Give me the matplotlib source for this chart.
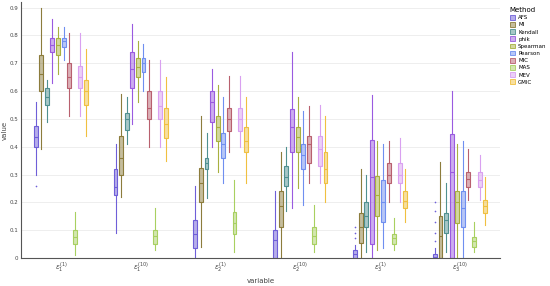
import matplotlib.pyplot as plt
from matplotlib.patches import Patch

groups = [r"$\epsilon_1^{(1)}$", r"$\epsilon_1^{(10)}$", r"$\epsilon_2^{(1)}$",
          r"$\epsilon_2^{(10)}$", r"$\epsilon_3^{(1)}$", r"$\epsilon_3^{(10)}$"]
methods = ["AFS", "MI", "Kendall", "phik", "Spearman", "Pearson", "MIC", "MAS", "MEV", "GMIC"]
colors = ["#6f5fd8", "#8c7c3c", "#4f9090", "#9a5ae0", "#a8b040", "#6f8ff0",
          "#b8606e", "#a8d060", "#d9a0f0", "#f0c040"]

# (whisker low, q1, median, q3, whisker high) per group
AFS = [(0.30, 0.40, 0.435, 0.475, 0.56), (0.09, 0.225, 0.255, 0.32, 0.41),
       (0.0, 0.035, 0.085, 0.135, 0.26), (0.0, 0.0, 0.065, 0.10, 0.24),
       (0.0, 0.0, 0.015, 0.03, 0.045), (0.0, 0.0, 0.005, 0.015, 0.035)]
MI = [(0.39, 0.60, 0.66, 0.73, 0.90), (0.22, 0.30, 0.36, 0.44, 0.59),
      (0.04, 0.20, 0.27, 0.325, 0.51), (0.0, 0.11, 0.185, 0.24, 0.38),
      (0.0, 0.055, 0.11, 0.16, 0.32), (0.0, 0.0, 0.08, 0.15, 0.345)]
Kendall = [(0.49, 0.55, 0.58, 0.61, 0.64), (0.41, 0.46, 0.50, 0.52, 0.58),
           (0.215, 0.32, 0.34, 0.36, 0.45), (0.17, 0.26, 0.29, 0.33, 0.40),
           (0.02, 0.11, 0.15, 0.20, 0.30), (0.02, 0.09, 0.135, 0.16, 0.27)]
phik = [(0.63, 0.74, 0.765, 0.79, 0.86), (0.48, 0.61, 0.68, 0.74, 0.84),
        (0.40, 0.49, 0.56, 0.60, 0.68), (0.18, 0.38, 0.47, 0.535, 0.74),
        (0.0, 0.05, 0.29, 0.425, 0.585), (0.0, 0.0, 0.31, 0.445, 0.60)]
Spearman = [(0.66, 0.73, 0.765, 0.79, 0.83), (0.56, 0.65, 0.685, 0.72, 0.78),
            (0.31, 0.42, 0.47, 0.51, 0.62), (0.25, 0.38, 0.435, 0.47, 0.58),
            (0.03, 0.15, 0.225, 0.295, 0.42), (0.0, 0.125, 0.20, 0.24, 0.41)]
Pearson = [(0.71, 0.76, 0.78, 0.79, 0.83), (0.60, 0.67, 0.70, 0.72, 0.77),
           (0.27, 0.36, 0.41, 0.45, 0.58), (0.19, 0.32, 0.37, 0.41, 0.53),
           (0.036, 0.13, 0.20, 0.28, 0.41), (0.0, 0.11, 0.18, 0.24, 0.42)]
MIC = [(0.51, 0.61, 0.65, 0.70, 0.81), (0.40, 0.50, 0.54, 0.60, 0.71),
       (0.38, 0.455, 0.50, 0.54, 0.655), (0.27, 0.34, 0.41, 0.44, 0.545),
       (0.20, 0.27, 0.30, 0.34, 0.42), (0.21, 0.255, 0.285, 0.31, 0.39)]
MAS = [(0.01, 0.05, 0.075, 0.10, 0.165), (0.03, 0.05, 0.08, 0.10, 0.18),
       (0.02, 0.085, 0.125, 0.165, 0.28), (0.02, 0.05, 0.08, 0.11, 0.19),
       (0.03, 0.05, 0.07, 0.085, 0.145), (0.02, 0.04, 0.06, 0.075, 0.13)]
MEV = [(0.51, 0.61, 0.65, 0.69, 0.81), (0.40, 0.50, 0.545, 0.60, 0.71),
       (0.40, 0.455, 0.50, 0.54, 0.655), (0.27, 0.33, 0.39, 0.44, 0.55),
       (0.20, 0.27, 0.30, 0.34, 0.43), (0.21, 0.255, 0.28, 0.31, 0.37)]
GMIC = [(0.44, 0.55, 0.60, 0.64, 0.75), (0.35, 0.43, 0.48, 0.54, 0.65),
        (0.27, 0.38, 0.42, 0.47, 0.58), (0.20, 0.27, 0.32, 0.38, 0.51),
        (0.13, 0.18, 0.205, 0.24, 0.32), (0.12, 0.16, 0.185, 0.21, 0.29)]
stats_all = [AFS, MI, Kendall, phik, Spearman, Pearson, MIC, MAS, MEV, GMIC]

# a few outliers on AFS (group index, value)
afs_fliers = [(0, 0.26), (4, 0.07), (4, 0.09), (4, 0.11),
              (5, 0.06), (5, 0.09), (5, 0.13), (5, 0.17), (5, 0.20)]

fig = plt.figure(figsize=(5.5, 2.86), dpi=100)
ax = fig.add_axes([0.038, 0.098, 0.871, 0.895])

n = len(methods)
slot = 0.7 / n
for j, (name, col, st) in enumerate(zip(methods, colors, stats_all)):
    pos = [i + (j - (n - 1) / 2) * slot for i in range(len(groups))]
    bx = []
    for i, (lo, q1, med, q3, hi) in enumerate(st):
        fl = [v for g, v in afs_fliers if g == i] if name == "AFS" else []
        bx.append(dict(whislo=lo, q1=q1, med=med, q3=q3, whishi=hi, fliers=fl))
    ax.bxp(bx, positions=pos, widths=slot * 0.7, patch_artist=True, showcaps=False,
           boxprops=dict(facecolor=col + "80", edgecolor=col, linewidth=0.8),
           medianprops=dict(color=col, linewidth=0.8),
           whiskerprops=dict(color=col, linewidth=0.8),
           flierprops=dict(marker="o", markersize=1.2, markerfacecolor=col,
                           markeredgecolor="none"))

ax.set_xlim(-0.5, len(groups) - 0.5)
ax.set_ylim(0, 0.92)
ax.set_xticks(range(len(groups)))
ax.set_xticklabels(groups, fontsize=5, color="#444444")
ax.set_yticks([0, 0.1, 0.2, 0.3, 0.4, 0.5, 0.6, 0.7, 0.8, 0.9])
ax.set_yticklabels(["0", "0.1", "0.2", "0.3", "0.4", "0.5", "0.6", "0.7", "0.8", "0.9"],
                   fontsize=4, color="#444444")
ax.tick_params(length=0, pad=2)
ax.grid(axis="y", color="#ebebeb", linewidth=0.6)
ax.set_axisbelow(True)
for s in ["top", "right"]:
    ax.spines[s].set_visible(False)
ax.spines["left"].set_color("#555555")
ax.spines["bottom"].set_color("#555555")
ax.spines["left"].set_linewidth(0.8)
ax.spines["bottom"].set_linewidth(0.8)
ax.set_xlabel("variable", fontsize=5, color="#444444", labelpad=2)
ax.set_ylabel("value", fontsize=5, color="#444444")
ax.yaxis.set_label_coords(-0.028, 0.5)

handles = [Patch(facecolor=c + "80", edgecolor=c, linewidth=0.6) for c in colors]
leg = ax.legend(handles, methods, title="Method", loc="upper left",
                bbox_to_anchor=(1.01, 1.0), frameon=False, fontsize=4,
                title_fontsize=5, handlelength=0.9, handleheight=0.9,
                labelspacing=0.35, handletextpad=0.6)
leg._legend_box.align = "left"

fig.savefig("out.png", dpi=100)
